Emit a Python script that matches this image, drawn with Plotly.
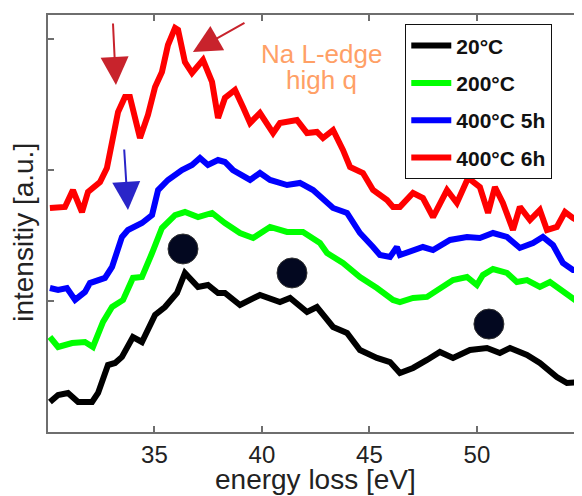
import plotly.graph_objects as go

# ---- data (energy loss [eV], intensity [a.u.]) ----
e_20 = [30.14, 30.52, 30.98, 31.45, 32.10, 32.38, 32.84, 33.17, 33.49, 34.00, 34.42, 35.03, 35.49,
        36.05, 36.42, 36.75, 37.03, 37.49, 37.96, 38.28, 38.98, 39.91, 40.84, 41.31, 42.10, 42.56,
        43.31, 43.96, 44.56, 45.35, 45.96, 46.42, 47.03, 47.68, 48.28, 48.89, 49.68, 50.47, 51.07,
        51.54, 52.33, 52.93, 53.72, 54.19, 54.89]
i_20 = [0.229, 0.282, 0.298, 0.229, 0.229, 0.298, 0.511, 0.527, 0.573, 0.725, 0.687, 0.893, 0.954,
        1.061, 1.214, 1.160, 1.107, 1.122, 1.061, 1.061, 0.969, 1.046, 0.992, 1.023, 0.916, 0.954,
        0.802, 0.756, 0.626, 0.565, 0.534, 0.450, 0.489, 0.550, 0.611, 0.565, 0.626, 0.641, 0.603,
        0.641, 0.588, 0.527, 0.420, 0.374, 0.382]

e_200 = [30.14, 30.52, 31.17, 31.77, 32.14, 32.61, 33.03, 33.54, 34.00, 34.42, 34.89, 35.35, 35.96,
         36.42, 37.03, 37.68, 38.28, 38.98, 39.59, 40.38, 41.17, 41.91, 42.70, 43.03, 43.77, 44.56,
         45.35, 46.10, 46.42, 47.03, 47.68, 48.28, 48.89, 49.54, 50.00, 50.28, 50.75, 51.40, 51.86,
         52.33, 52.93, 53.40, 54.00, 54.65, 54.89]
i_200 = [0.725, 0.649, 0.679, 0.687, 0.649, 0.840, 0.954, 1.008, 1.176, 1.183, 1.366, 1.557, 1.656,
         1.679, 1.641, 1.672, 1.595, 1.519, 1.481, 1.565, 1.527, 1.527, 1.443, 1.366, 1.290, 1.183,
         1.099, 1.008, 0.992, 1.023, 1.031, 1.099, 1.160, 1.183, 1.122, 1.198, 1.244, 1.214, 1.145,
         1.160, 1.107, 1.145, 1.069, 0.985, 0.969]

e_400_5h = [30.14, 30.52, 30.93, 31.31, 31.77, 32.00, 32.70, 33.03, 33.49, 33.77, 34.42, 34.89, 35.17,
            35.63, 36.28, 36.75, 37.12, 37.49, 37.96, 38.28, 38.65, 39.45, 39.91, 40.38, 41.17, 41.77,
            42.38, 43.31, 43.96, 44.56, 45.17, 45.49, 45.96, 46.28, 46.42, 47.03, 47.49, 47.96, 48.75,
            49.54, 50.14, 50.75, 51.40, 52.00, 52.61, 53.07, 53.54, 54.00, 54.47, 54.89]
i_400_5h = [1.099, 1.084, 1.099, 1.008, 1.069, 1.137, 1.176, 1.260, 1.489, 1.542, 1.595, 1.656, 1.847,
            1.924, 2.000, 2.038, 2.092, 2.038, 2.076, 2.061, 2.000, 1.924, 1.977, 1.924, 1.885, 1.901,
            1.847, 1.710, 1.672, 1.519, 1.412, 1.351, 1.336, 1.412, 1.351, 1.389, 1.412, 1.389, 1.466,
            1.489, 1.481, 1.519, 1.489, 1.405, 1.443, 1.489, 1.427, 1.290, 1.237, 1.237]

e_400_6h = [30.14, 30.38, 30.84, 31.21, 31.63, 31.91, 32.47, 32.79, 33.03, 33.31, 33.63, 33.86, 34.33,
            34.70, 35.03, 35.35, 35.63, 35.96, 36.10, 36.42, 36.75, 37.03, 37.26, 37.68, 37.96, 38.28,
            38.75, 39.12, 39.45, 39.91, 40.52, 40.84, 41.63, 42.10, 42.56, 42.84, 43.31, 43.77, 44.10,
            44.70, 45.17, 45.82, 46.10, 46.42, 47.03, 47.49, 47.96, 48.61, 49.07, 49.59, 50.14, 50.52,
            50.84, 51.21, 51.68, 52.00, 52.47, 52.93, 53.26, 53.72, 54.10, 54.47, 54.89]
i_400_6h = [1.710, 1.710, 1.718, 1.847, 1.679, 1.832, 1.908, 2.015, 2.214, 2.443, 2.557, 2.557, 2.244,
            2.420, 2.634, 2.748, 2.954, 3.084, 3.069, 2.824, 2.740, 2.802, 2.840, 2.672, 2.397, 2.550,
            2.611, 2.481, 2.359, 2.435, 2.282, 2.359, 2.382, 2.282, 2.290, 2.244, 2.305, 2.153, 2.023,
            1.977, 1.847, 1.771, 1.718, 1.718, 1.824, 1.786, 1.641, 1.847, 1.748, 1.939, 1.870, 1.672,
            1.870, 1.748, 1.542, 1.718, 1.618, 1.695, 1.542, 1.565, 1.679, 1.634, 1.595]

dot_e = [36.33, 41.40, 50.56]
dot_i = [1.397, 1.214, 0.824]

series_names = ["20°C", "200°C", "400°C 5h", "400°C 6h"]
series_colors = ["#000000", "#00ff00", "#0000ff", "#ff0000"]

x_ticks = [35, 40, 45, 50]
y_ticks = [0, 1, 2, 3]

FONT = "Liberation Sans, Arial, Helvetica, sans-serif"
TXT = "#222222"

fig = go.Figure()
for name, col, xs, ys in zip(series_names, series_colors,
                             [e_20, e_200, e_400_5h, e_400_6h],
                             [i_20, i_200, i_400_5h, i_400_6h]):
    fig.add_trace(go.Scatter(x=xs, y=ys, mode="lines", name=name, legendgroup=name,
                             line=dict(color=col, width=6)))

fig.add_trace(go.Scatter(x=dot_e, y=dot_i, mode="markers", showlegend=False,
                         marker=dict(size=30, color="#030820", line=dict(color="#333333", width=1))))

axis_common = dict(showline=True, linecolor="#6e6e6e", linewidth=1.5, mirror="ticks",
                   ticks="inside", ticklen=6, tickcolor="#6e6e6e", tickwidth=1.5,
                   showgrid=False, zeroline=False, automargin=False)

# page body has an 8px default margin: figure is 574x488 so it ends at the window edge
fig.update_layout(
    width=574, height=488,
    margin=dict(l=40, r=0, t=7, b=64),
    paper_bgcolor="white", plot_bgcolor="white",
    font=dict(family=FONT, color=TXT),
    xaxis=dict(range=[30.05, 54.89], tickvals=x_ticks, ticktext=[str(v) for v in x_ticks],
               tickfont=dict(size=24, color=TXT), **axis_common),
    yaxis=dict(range=[0, 3.183], tickvals=y_ticks, showticklabels=False, **axis_common),
    legend=dict(x=0.6685, y=0.978, xanchor="left", yanchor="top",
                bgcolor="white", bordercolor="#111111", borderwidth=1.3,
                font=dict(size=21, color="#111111", family=FONT, weight="bold"),
                tracegroupgap=7, itemwidth=40),
    showlegend=True,
)

# axis titles
fig.add_annotation(x=0.5, y=-0.115, xref="paper", yref="paper", text="energy loss [eV]",
                   showarrow=False, font=dict(size=28, color=TXT), xanchor="center", yanchor="middle")
fig.add_annotation(x=-0.045, y=0.48, xref="paper", yref="paper", text="intensitiy [a.u.]",
                   showarrow=False, textangle=-90, font=dict(size=28, color=TXT),
                   xanchor="center", yanchor="middle")

# arrows
fig.add_annotation(x=33.21, y=2.649, ax=33.07, ay=3.130, axref="x", ayref="y", xref="x", yref="y",
                   text="", showarrow=True, arrowhead=2, arrowsize=2.8, arrowwidth=2,
                   arrowcolor="#c8232c")
fig.add_annotation(x=36.79, y=2.901, ax=39.26, ay=3.130, axref="x", ayref="y", xref="x", yref="y",
                   text="", showarrow=True, arrowhead=2, arrowsize=2.8, arrowwidth=2,
                   arrowcolor="#c8232c")
fig.add_annotation(x=33.77, y=1.695, ax=33.59, ay=2.168, axref="x", ayref="y", xref="x", yref="y",
                   text="", showarrow=True, arrowhead=2, arrowsize=2.8, arrowwidth=2,
                   arrowcolor="#2a25c8")

# text label
fig.add_annotation(x=42.79, y=2.885, xref="x", yref="y", text="Na L-edge", showarrow=False,
                   font=dict(size=26, color="#ffa066", family=FONT))
fig.add_annotation(x=42.79, y=2.687, xref="x", yref="y", text="high q", showarrow=False,
                   font=dict(size=26, color="#ffa066", family=FONT))

fig.write_html("out.html")
